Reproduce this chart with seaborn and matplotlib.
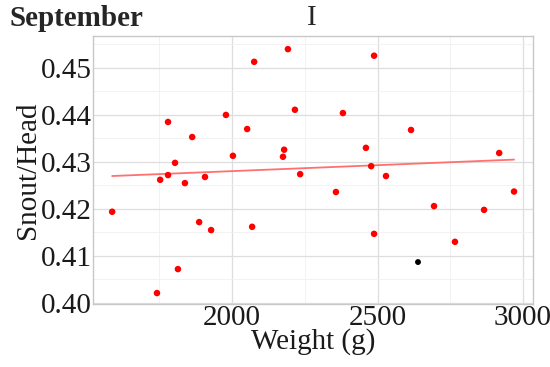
import numpy as np
import pandas as pd
import matplotlib
matplotlib.use("Agg")
import matplotlib.pyplot as plt
import seaborn as sns

weight_red = [1588, 1742, 1814, 1753, 1780, 1838, 1907, 1887, 1928, 2069, 2234,
              1780, 1863, 1804, 1979, 2052, 2003, 2076, 2192, 2216, 2179, 2175,
              2488, 2381, 2615, 2460, 2478, 2529, 2918, 2357, 2488, 2694, 2866,
              2766, 2969]
ratio_red = [0.4194, 0.4021, 0.4072, 0.4262, 0.4272, 0.4255, 0.4268, 0.4172, 0.4155,
             0.4162, 0.4274, 0.4385, 0.4353, 0.4298, 0.4400, 0.4370, 0.4313, 0.4513,
             0.4540, 0.4411, 0.4326, 0.4311, 0.4526, 0.4404, 0.4368, 0.4330, 0.4291,
             0.4270, 0.4319, 0.4236, 0.4147, 0.4206, 0.4198, 0.4130, 0.4237]
weight_black = [2639]
ratio_black = [0.4087]

x_ticks = [2000, 2500, 3000]
y_ticks = [0.40, 0.41, 0.42, 0.43, 0.44, 0.45]

sns.set_theme(style="whitegrid")
plt.rcParams['font.family'] = ['Liberation Serif', 'DejaVu Serif']

red = pd.DataFrame({"Weight": weight_red, "Ratio": ratio_red})
black = pd.DataFrame({"Weight": weight_black, "Ratio": ratio_black})

fig = plt.figure(figsize=(5.5, 3.67), dpi=100)
ax = fig.add_axes([0.169, 0.172, 0.8, 0.730])

sns.regplot(data=red, x="Weight", y="Ratio", scatter=False, ci=None, ax=ax,
            line_kws={"color": "#ff7070", "lw": 1.3})
sns.scatterplot(data=red, x="Weight", y="Ratio", color="#ff0000", s=22,
                edgecolor="none", ax=ax, zorder=3)
sns.scatterplot(data=black, x="Weight", y="Ratio", color="black", s=18,
                edgecolor="none", ax=ax, zorder=3)

ax.set_xlim(1522, 3034)
ax.set_ylim(0.3998, 0.4568)
ax.set_xticks(x_ticks)
ax.set_yticks(y_ticks)
ax.set_yticklabels([f"{v:.2f}" for v in y_ticks])
ax.set_xticks([1750, 2250, 2750], minor=True)
ax.set_yticks([0.405, 0.415, 0.425, 0.435, 0.445, 0.455], minor=True)
ax.grid(which="major", color="#dedede", lw=0.9)
ax.grid(which="minor", color="#f0f0f0", lw=0.6)
ax.tick_params(which="both", length=0, labelsize=21, pad=1, labelcolor="#1a1a1a")
for s in ax.spines.values():
    s.set_color("#c8c8c8")
    s.set_linewidth(1.0)
ax.set_xlabel("Weight (g)", fontsize=21, labelpad=-2, color="#1a1a1a")
ax.set_ylabel("Snout/Head", fontsize=21, labelpad=0, color="#1a1a1a")

fig.text(0.018, 0.95, "September", fontsize=21, fontweight="bold", va="center", ha="left")
fig.text(0.567, 0.95, "I", fontsize=21, va="center", ha="center")

fig.savefig("out.png", dpi=100)
